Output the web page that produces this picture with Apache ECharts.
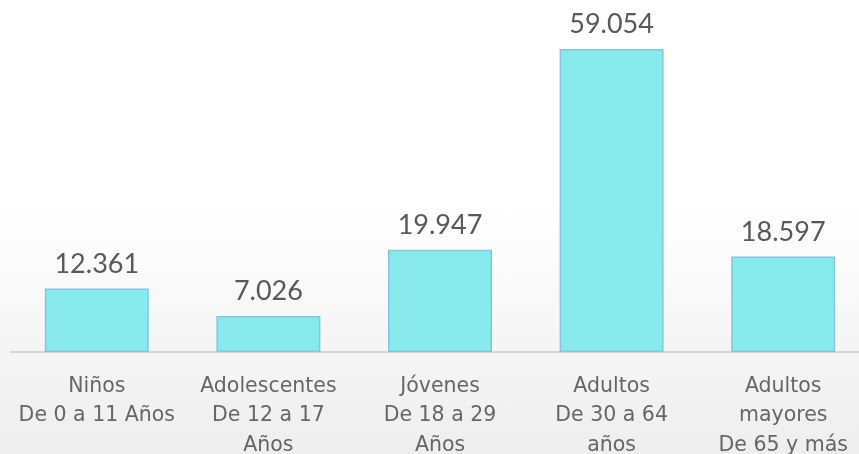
<!DOCTYPE html>
<html><head><meta charset="utf-8">
<script src="https://cdn.jsdelivr.net/npm/echarts@6/dist/echarts.min.js"></script>
<style>
html,body{margin:0;padding:0;overflow:hidden;}
body{width:859px;height:454px;background:linear-gradient(to bottom,#ffffff 0%,#ffffff 45%,#f4f4f4 80%,#eeeeee 100%);}
#c{width:875px;height:454px;}
</style></head>
<body><div id="c"></div>
<script>
const categories = ['Niños\nDe 0 a 11 Años', 'Adolescentes\nDe 12 a 17\nAños', 'Jóvenes\nDe 18 a 29\nAños', 'Adultos\nDe 30 a 64\naños', 'Adultos\nmayores\nDe 65 y más'];
const values = [12361, 7026, 19947, 59054, 18597];
const valueLabels = ['12.361', '7.026', '19.947', '59.054', '18.597'];

const chart = echarts.init(document.getElementById('c'));
chart.setOption({
  backgroundColor: 'transparent',
  animation: false,
  grid: {left: 11, width: 858, top: 0, height: 352, containLabel: false, outerBoundsMode: 'none'},
  xAxis: {
    type: 'category', data: categories,
    axisLine: {lineStyle: {color: '#d4d4d4', width: 2}},
    axisTick: {show: false},
    axisLabel: {interval: 0, color: '#666666', fontFamily: 'DejaVu Sans', fontSize: 20.5, lineHeight: 29.5, margin: 19.5}
  },
  yAxis: {type: 'value', min: 0, max: 68600, show: false, splitLine: {show: false}},
  series: [{
    type: 'bar', data: values, barWidth: 104,
    itemStyle: {color: '#88eaec', borderColor: '#86c6dc', borderWidth: 1.5},
    label: {show: true, position: 'top', distance: 11, color: '#595959', fontFamily: 'Lato', fontSize: 27,
      formatter: p => valueLabels[p.dataIndex]}
  }]
});
</script></body></html>
